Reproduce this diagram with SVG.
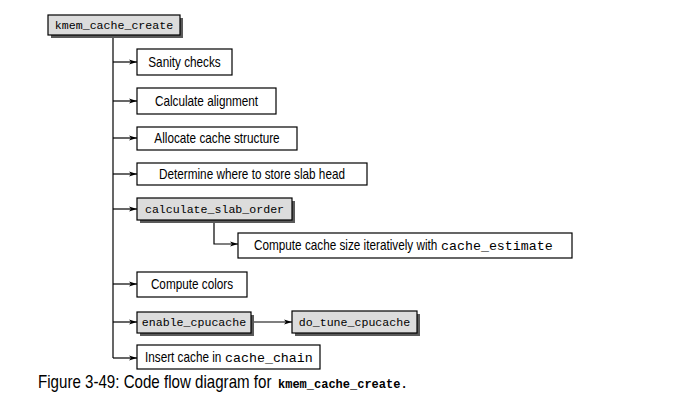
<svg xmlns="http://www.w3.org/2000/svg" width="700" height="415" viewBox="0 0 700 415">
<defs>
<marker id="ah" viewBox="0 0 8 6" refX="8" refY="3" markerWidth="8" markerHeight="6" markerUnits="userSpaceOnUse" orient="auto">
<path d="M0,0.6 L8,3 L0,5.4 L2,3 z" fill="#000"/>
</marker>
<style>
.w{fill:#fff;stroke:#000;stroke-width:1.2}
.g{fill:#dcdcdc;stroke:#000;stroke-width:1.2}
.sh{fill:#5a5a5a;stroke:none}
.t{font-family:"Liberation Sans",Arial,sans-serif;font-size:14px;fill:#000;text-anchor:middle}
.ts{font-family:"Liberation Sans",Arial,sans-serif;font-size:14px;fill:#000}
.m{font-family:"Liberation Mono","Courier New",monospace;font-size:11.6px;fill:#000;text-anchor:middle}
.mi{font-family:"Liberation Mono","Courier New",monospace;font-size:13.3px;fill:#000}
.c{stroke:#000;stroke-width:1.2;fill:none}
.a{marker-end:url(#ah)}
</style>
</defs>
<rect width="700" height="415" fill="#fff"/>
<g id="connectors">
<path class="c" d="M113,35 V358"/>
<path class="c a" d="M113,62 H137"/>
<path class="c a" d="M113,101 H137"/>
<path class="c a" d="M113,138 H137"/>
<path class="c a" d="M113,174 H137"/>
<path class="c a" d="M113,209 H137"/>
<path class="c a" d="M113,284 H137"/>
<path class="c a" d="M113,322 H137"/>
<path class="c a" d="M113,358 H137"/>
<path class="c a" d="M214,220 V244 H238"/>
<path class="c a" d="M251,322 H292"/>
</g>
<g id="kmem_cache_create">
<rect class="sh" x="51" y="18" width="132" height="20"/>
<rect class="g" x="48" y="15" width="132" height="20"/>
<text class="m" x="114" y="29">kmem_cache_create</text>
</g>
<g id="sanity_checks">
<rect class="w" x="137" y="49" width="95" height="26"/>
<text class="t" transform="translate(184.5,67) scale(0.84,1)">Sanity checks</text>
</g>
<g id="calculate_alignment">
<rect class="w" x="137" y="88" width="139" height="26"/>
<text class="t" transform="translate(206.5,106) scale(0.84,1)">Calculate alignment</text>
</g>
<g id="allocate_cache_structure">
<rect class="w" x="137" y="127" width="160" height="23"/>
<text class="t" transform="translate(217,143) scale(0.84,1)">Allocate cache structure</text>
</g>
<g id="determine_slab_head">
<rect class="w" x="137" y="163" width="230" height="22"/>
<text class="t" transform="translate(252,179) scale(0.84,1)">Determine where to store slab head</text>
</g>
<g id="calculate_slab_order">
<rect class="sh" x="140" y="201" width="155" height="22"/>
<rect class="g" x="137" y="198" width="155" height="22"/>
<text class="m" x="214.5" y="213">calculate_slab_order</text>
</g>
<g id="compute_cache_size">
<rect class="w" x="238" y="233" width="334" height="25"/>
<text class="ts" transform="translate(254,250) scale(0.84,1)">Compute cache size iteratively with</text>
<text class="mi" x="441" y="250">cache_estimate</text>
</g>
<g id="compute_colors">
<rect class="w" x="137" y="272" width="110" height="25"/>
<text class="t" transform="translate(192,289) scale(0.84,1)">Compute colors</text>
</g>
<g id="enable_cpucache">
<rect class="sh" x="140" y="315" width="114" height="21"/>
<rect class="g" x="137" y="312" width="114" height="21"/>
<text class="m" x="194" y="326">enable_cpucache</text>
</g>
<g id="do_tune_cpucache">
<rect class="sh" x="295" y="314" width="125" height="22"/>
<rect class="g" x="292" y="311" width="125" height="22"/>
<text class="m" x="354.5" y="326">do_tune_cpucache</text>
</g>
<g id="insert_cache">
<rect class="w" x="137" y="345" width="183" height="24"/>
<text class="ts" transform="translate(145,362) scale(0.84,1)">Insert cache in</text>
<text class="mi" x="225" y="362">cache_chain</text>
</g>
<g id="caption">
<text transform="translate(38,388) scale(0.84,1)" style="font-family:'Liberation Sans',Arial,sans-serif;font-size:18px;fill:#000">Figure 3-49: Code flow diagram for</text>
<text x="278" y="388" style="font-family:'Liberation Mono','Courier New',monospace;font-weight:bold;font-size:12px;fill:#000">kmem_cache_create.</text>
</g>
</svg>
